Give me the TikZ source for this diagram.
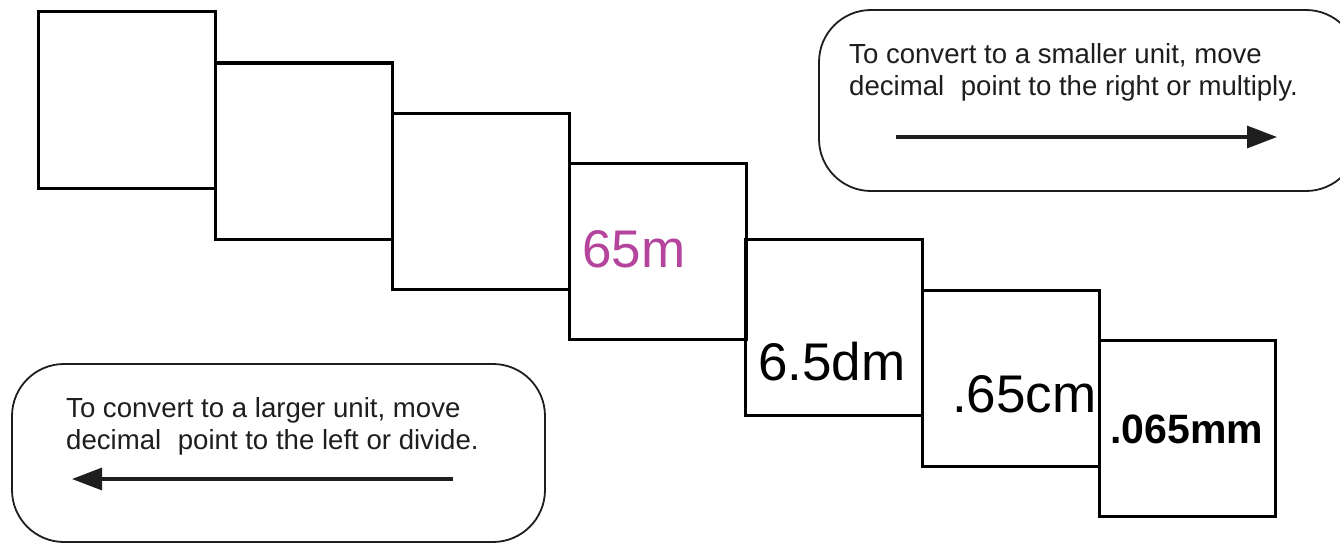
\documentclass[tikz,border=0pt]{standalone}
\usepackage{fontspec}
\setmainfont{Liberation Sans}
\usetikzlibrary{arrows.meta}
\definecolor{plum}{RGB}{181,68,157}
\definecolor{ink}{RGB}{30,30,30}
\tikzset{
  sq/.style={draw=black, line width=3pt, rectangle, minimum width=177pt, minimum height=176pt, anchor=north west, inner sep=0pt, outer sep=0pt},
  bigval/.style={anchor=base west, inner sep=0pt, font=\fontsize{53}{60}\selectfont},
  smallval/.style={anchor=base west, inner sep=0pt, font=\bfseries\fontsize{41}{46}\selectfont},
  note/.style={draw=ink, line width=1.8pt, rounded corners=52pt, rectangle, anchor=north west, inner sep=0pt, outer sep=0pt},
  notetext/.style={anchor=north west, inner sep=0pt, align=left, text=ink, font=\fontsize{27.6}{32}\selectfont},
  dirarrow/.style={line width=3.2pt, ink, -{Triangle[length=30pt,width=22pt]}}
}
\begin{document}
\begin{tikzpicture}[x=1pt,y=-1pt]
\clip (0,0) rectangle (1340,543);
\fill[white] (0,0) rectangle (1340,543);
% squares
\node[sq] (s1) at (38,12) {};
\node[sq] (s2) at (215,63) {};
\node[sq] (s3) at (392,113) {};
\node[sq] (s4) at (569,163) {};
\node[sq] (s5) at (745,239) {};
\node[sq] (s6) at (922,290) {};
\node[sq, minimum width=176pt] (s7) at (1099,340) {};
% values
\node[bigval, text=plum] (v4) at (582,267) {65m};
\node[bigval] (v5) at (758,380) {6.5dm};
\node[bigval] (v6) at (952,412) {.65cm};
\node[smallval] (v7) at (1110,443) {.065mm};
% notes
\node[note, minimum width=539pt, minimum height=181pt] (n1) at (819,10) {};
\node[notetext] (t1) at (849,43) {To convert to a smaller unit, move\\decimal\hspace{0.6em}point to the right or multiply.};
\coordinate (a1s) at (896,137);
\coordinate (a1e) at (1277,137);
\draw[dirarrow] (a1s) -- (a1e);
\node[note, minimum width=533pt, minimum height=178pt] (n2) at (12,364) {};
\node[notetext] (t2) at (66,397) {To convert to a larger unit, move\\decimal\hspace{0.6em}point to the left or divide.};
\coordinate (a2s) at (453,479);
\coordinate (a2e) at (72,479);
\draw[dirarrow] (a2s) -- (a2e);
\end{tikzpicture}
\end{document}
